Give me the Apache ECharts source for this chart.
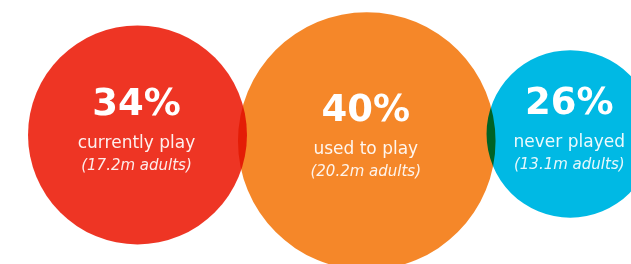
<!DOCTYPE html>
<html>
<head>
<meta charset="utf-8">
<style>
  html, body { margin: 0; padding: 0; background: #ffffff; }
  #chart { width: 631px; height: 264px; }
</style>
<script src="https://cdn.jsdelivr.net/npm/echarts@6/dist/echarts.min.js"></script>
</head>
<body>
<div id="chart"></div>
<script>
// ---- data ----
const categories = ['currently play', 'used to play', 'never played'];
const percentValues = [34, 40, 26];
const adultsMillions = [17.2, 20.2, 13.1];

// ---- styling / layout (not data) ----
const colors = ['#EE3524', '#F58729', '#00B9E4'];
const PX_PER_UNIT = 3.22;             // radius (px) per percentage point
const startX = 8.7;                   // left edge of first circle, axis units
const overlaps = [2.8, 2.8];          // overlap between neighbours, axis units
const centerY = [41.9, 43.8, 41.6];   // vertical centres, axis units (from top)

function centerX(i) {
  let x = startX + percentValues[0];
  for (let k = 1; k <= i; k++) {
    x += percentValues[k - 1] + percentValues[k] - overlaps[k - 1];
  }
  return x;
}

const chart = echarts.init(document.getElementById('chart'), null, { renderer: 'canvas' });

const circleData = percentValues.map((v, i) => ({ name: categories[i], value: [v] }));

chart.setOption({
  backgroundColor: '#ffffff',
  animation: false,
  grid: { left: 0, right: 0, top: 0, bottom: 0 },
  xAxis: { type: 'value', min: 0, max: 631 / PX_PER_UNIT, show: false },
  yAxis: { type: 'value', min: 0, max: 264 / PX_PER_UNIT, inverse: true, show: false },
  series: [
    {
      type: 'custom',
      z: 1,
      blendMode: 'multiply',
      data: circleData,
      renderItem: function (params, api) {
        const i = params.dataIndex;
        const v = api.value(0);
        const c = api.coord([centerX(i), centerY[i]]);
        const r = api.size([v, v])[0];
        return {
          type: 'circle',
          shape: { cx: c[0], cy: c[1], r: r },
          style: { fill: colors[i] }
        };
      }
    },
    {
      type: 'custom',
      z: 5,
      data: circleData,
      renderItem: function (params, api) {
        const i = params.dataIndex;
        const v = api.value(0);
        const c = api.coord([centerX(i), centerY[i]]);
        const x = c[0] - 1;
        return {
          type: 'group',
          children: [
            {
              type: 'text', x: x, y: c[1] - 30,
              style: {
                text: v + '%', fill: '#ffffff',
                fontFamily: 'DejaVu Sans', fontWeight: 'bold', fontSize: 37,
                align: 'center', verticalAlign: 'middle'
              }
            },
            {
              type: 'text', x: x, y: c[1] + 8.5,
              style: {
                text: categories[i], fill: 'rgba(255,255,255,0.92)',
                fontFamily: 'DejaVu Sans', fontWeight: 'normal', fontSize: 17,
                align: 'center', verticalAlign: 'middle'
              }
            },
            {
              type: 'text', x: x, y: c[1] + 31.5,
              style: {
                text: '(' + adultsMillions[i] + 'm adults)', fill: 'rgba(255,255,255,0.9)',
                fontFamily: 'DejaVu Sans', fontWeight: 'normal', fontStyle: 'italic', fontSize: 15,
                align: 'center', verticalAlign: 'middle'
              }
            }
          ]
        };
      }
    }
  ]
});
</script>
</body>
</html>
